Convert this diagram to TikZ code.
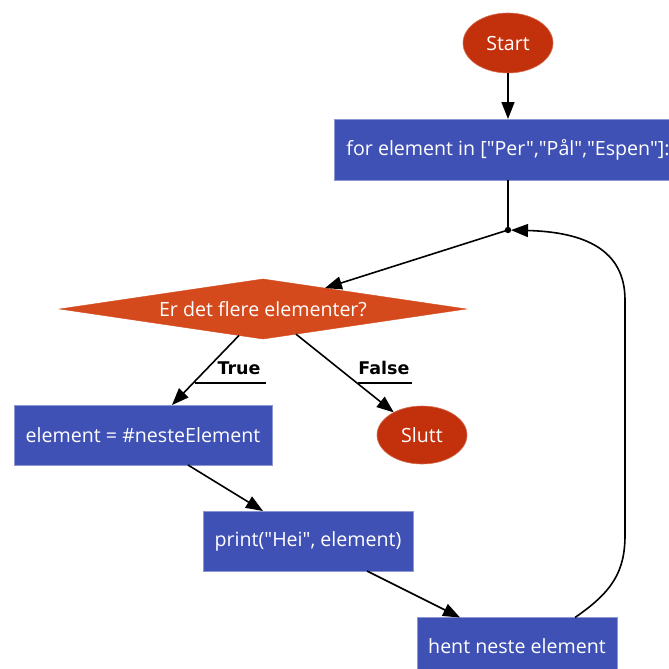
\documentclass[tikz,border=0pt]{standalone}
\usepackage{fontspec}
\setmainfont{Open Sans}[Ligatures=TeXOff]
\newfontfamily\lblfont{DejaVu Sans}
\usetikzlibrary{arrows.meta,shapes.geometric,calc}
\definecolor{boxblue}{RGB}{64,81,181}
\definecolor{ovalred}{RGB}{194,49,12}
\definecolor{diamred}{RGB}{212,74,28}
\begin{document}
\begin{tikzpicture}[x=1pt,y=-1pt,
  every node/.style={font=\fontsize{19.6}{24}\selectfont, text=white, inner sep=0pt, outer sep=0pt},
  procbox/.style={rectangle, fill=boxblue, draw=boxblue!60!white, line width=0.8pt},
  terminal/.style={ellipse, fill=ovalred, draw=ovalred!70!white, line width=0.6pt},
  decision/.style={diamond, fill=diamred, draw=diamred, aspect=6.78},
  lbl/.style={font=\lblfont\bfseries\fontsize{17.5}{20}\selectfont, text=black},
  arr/.style={draw=black, line width=1.6pt, -{Triangle[length=17pt,width=13pt]}},
  plain/.style={draw=black, line width=1.6pt}
]
\useasboundingbox (0,0) rectangle (669,669);

\node[terminal, minimum width=90pt, minimum height=60pt] (start) at (508,43) {Start};
\node[procbox, minimum width=348pt, minimum height=61pt] (for) at (508,149.5) {for element in ["Per","Pål","Espen"]:};
\coordinate (dot) at (508,230);
\fill (dot) circle (3.2pt);
\node[decision, minimum width=407pt, minimum height=60pt] (diam) at (263,309) {Er det flere elementer?};
\node[procbox, minimum width=258pt, minimum height=60pt] (elem) at (143,435) {element = \#nesteElement};
\node[terminal, minimum width=90pt, minimum height=58pt] (slutt) at (422,435) {Slutt};
\node[procbox, minimum width=210pt, minimum height=60pt] (print) at (308,541) {print("Hei", element)};
\node[procbox, minimum width=200pt, minimum height=58pt] (hent) at (517,646.5) {hent neste element};

\node[lbl] (tlbl) at (239,368) {True};
\node[lbl] (flbl) at (384,368) {False};
\draw[line width=1.3pt] (195,383) -- (266,383);
\draw[line width=1.3pt] (358,383) -- (412,383);

\draw[arr] (start) -- (for);
\draw[plain] (for.south) -- (dot);
\draw[arr] (dot) -- ($(diam.north)!0.304!(diam.east)$);
\draw[arr] ($(diam.south)!0.118!(diam.west)$) -- ($(elem.north)+(29,0)$);
\draw[arr] ($(diam.south)!0.162!(diam.east)$) -- (slutt);
\draw[arr] ($(elem.south)+(45,0)$) -- ($(print.north)+(-45,0)$);
\draw[arr] ($(print.south)+(59,0)$) -- ($(hent.north)+(-57,0)$);
\draw[arr, shorten >=3pt] ($(hent.north)+(58,0)$) .. controls (612,592) and (625,572) .. (625,535)
  -- (625,300) .. controls (625,250) and (585,232) .. (dot);
\end{tikzpicture}
\end{document}
